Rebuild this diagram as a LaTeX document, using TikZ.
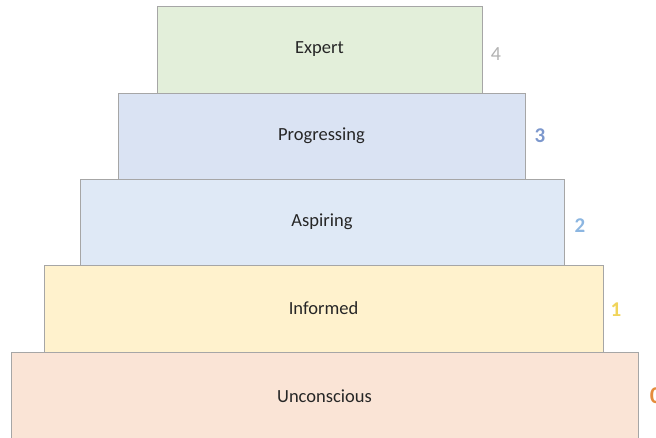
\documentclass[tikz,border=0pt]{standalone}
\usepackage{fontspec}
\setmainfont{Carlito}
\begin{document}
\begin{tikzpicture}[x=1pt,y=-1pt,
  tier/.style={draw=black!35, line width=0.8pt, inner sep=0pt, font=\fontsize{18.5}{20}\selectfont, text=black!85},
  lvl/.style={inner sep=0pt, font=\fontsize{21}{22}\selectfont\bfseries}]
\useasboundingbox (0,0) rectangle (656,438);
\begin{scope}
\clip (0,0) rectangle (656,438);
% pyramid tiers, bottom to top
\node[tier, fill={rgb,255:red,250;green,228;blue,214}, minimum width=627pt, minimum height=88pt] (unc) at (324.5,396) {Unconscious};
\node[tier, fill={rgb,255:red,255;green,242;blue,205}, minimum width=559pt, minimum height=87pt] (inf) at (323.5,308.5) {Informed};
\node[tier, fill={rgb,255:red,223;green,233;blue,246}, minimum width=484pt, minimum height=86pt] (asp) at (322,222) {Aspiring};
\node[tier, fill={rgb,255:red,218;green,227;blue,243}, minimum width=407pt, minimum height=86pt] (pro) at (321.5,136) {Progressing};
\node[tier, fill={rgb,255:red,227;green,239;blue,218}, minimum width=325pt, minimum height=87pt] (exp) at (319.5,49.5) {Expert};
% level numbers beside each tier
\node[lvl, font=\fontsize{20}{22}\selectfont, text=black!30] (n4) at (496,54) {4};
\node[lvl, text={rgb,255:red,125;green,152;blue,205}] (n3) at (540,136) {3};
\node[lvl, text={rgb,255:red,140;green,182;blue,225}] (n2) at (580,226) {2};
\node[lvl, text={rgb,255:red,240;green,212;blue,90}] (n1) at (616,310) {1};
\node[lvl, font=\fontsize{24}{26}\selectfont\bfseries, text={rgb,255:red,228;green,140;blue,60}] (n0) at (656,396) {0};
\end{scope}
\end{tikzpicture}
\end{document}
